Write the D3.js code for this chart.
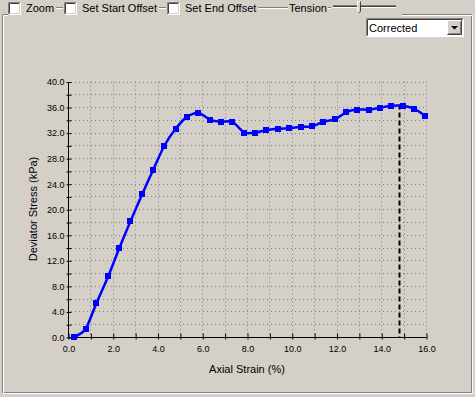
<!DOCTYPE html>
<html>
<head>
<meta charset="utf-8">
<script src="https://cdn.jsdelivr.net/npm/d3@7"></script>
<style>
  body { margin: 0; background: #d4d0c8; }
  svg { display: block; font-family: "Liberation Sans", Arial, sans-serif; }
</style>
</head>
<body>
<div id="chart"></div>
<script>
"use strict";

// data
var strain = [0.28, 0.79, 1.27, 1.80, 2.29, 2.79, 3.32, 3.81, 4.30, 4.81, 5.33, 5.83,
              6.36, 6.85, 7.34, 7.88, 8.37, 8.86, 9.40, 9.89, 10.42, 10.92, 11.41,
              11.95, 12.44, 12.93, 13.47, 13.96, 14.45, 14.99, 15.48, 15.97];
var stress = [0.0, 1.25, 5.3, 9.5, 13.9, 18.1, 22.4, 26.2, 29.9, 32.6, 34.5, 35.1,
              34.0, 33.7, 33.7, 32.0, 32.0, 32.4, 32.6, 32.7, 32.9, 33.0, 33.7,
              34.1, 35.2, 35.6, 35.6, 35.9, 36.2, 36.2, 35.7, 34.6];
var peakStrain = 14.81, peakStress = 36.4;
var xTicks = d3.range(0, 16.01, 1);
var yTicks = d3.range(0, 40.01, 2);
var modes = ["Corrected"];
var toolbarItems = ["Zoom", "Set Start Offset", "Set End Offset"];

var W = 475, H = 397;
var bg = "#d4d0c8";

var svg = d3.select("#chart").append("svg")
	.attr("width", W).attr("height", H);

svg.append("rect").attr("width", W).attr("height", H).attr("fill", bg);

// group box frame (etched), top edge only drawn at the ends
var frame = svg.append("g");
frame.append("path").attr("d", "M8,14.5H2.5V392.5H471.5V14.5H402")
	.attr("fill", "none").attr("stroke", "#808080");
frame.append("path").attr("d", "M8,15.5H3.5V393.5H472.5V15.5H402")
	.attr("fill", "none").attr("stroke", "#ffffff");

// ===== toolbar =====
var tb = svg.append("g");
function etched(x1, x2, yy){
	tb.append("line").attr("x1", x1).attr("x2", x2).attr("y1", yy + 0.5).attr("y2", yy + 0.5).attr("stroke", "#808080");
	tb.append("line").attr("x1", x1).attr("x2", x2).attr("y1", yy + 1.5).attr("y2", yy + 1.5).attr("stroke", "#ffffff");
}
function checkbox(x, y){
	var g = tb.append("g").attr("transform", "translate(" + x + "," + y + ")");
	g.append("rect").attr("x", 0).attr("y", 0).attr("width", 13).attr("height", 13).attr("fill", "#ffffff");
	g.append("path").attr("d", "M0.5,12.5V0.5H12.5").attr("fill", "none").attr("stroke", "#808080");
	g.append("path").attr("d", "M1.5,11.5V1.5H11.5").attr("fill", "none").attr("stroke", "#404040");
	g.append("path").attr("d", "M1.5,12.5H12.5V0.5").attr("fill", "none").attr("stroke", "#ffffff");
	g.append("path").attr("d", "M2,11.5H11.5V1").attr("fill", "none").attr("stroke", bg);
}
var cbX = [8, 64, 167];
var nextX = [64, 167, 289];
toolbarItems.forEach(function(label, i){
	var tx = cbX[i] + 18;
	checkbox(cbX[i], 2);
	var t = tb.append("text").attr("x", tx).attr("y", 12).attr("font-size", "11px")
		.attr("fill", "#000").text(label);
	var len = t.node().getComputedTextLength();
	etched(tx + len + 2, nextX[i] - 1, 7);
});

// "Tension" label + slider
var tens = tb.append("text").attr("x", 289).attr("y", 12).attr("font-size", "11px").text("Tension");
var tLen = tens.node().getComputedTextLength();
etched(289 + tLen + 1, 331, 7);
tb.append("line").attr("x1", 333).attr("x2", 396).attr("y1", 5.5).attr("y2", 5.5).attr("stroke", "#808080");
tb.append("line").attr("x1", 333).attr("x2", 396).attr("y1", 6.5).attr("y2", 6.5).attr("stroke", "#404040");
tb.append("line").attr("x1", 333).attr("x2", 396).attr("y1", 7.5).attr("y2", 7.5).attr("stroke", "#ffffff");
var thumb = tb.append("g").attr("transform", "translate(357,1)");
thumb.append("path").attr("d", "M0,0H4V10L2,12L0,10Z").attr("fill", bg);
thumb.append("path").attr("d", "M0.5,10V0.5H3.5").attr("fill", "none").attr("stroke", "#ffffff");
thumb.append("path").attr("d", "M3.5,0.5V10.5L2,12").attr("fill", "none").attr("stroke", "#404040");

// dropdown
var dd = svg.append("g").attr("transform", "translate(366,18)");
dd.append("rect").attr("width", 98).attr("height", 19).attr("fill", "#ffffff");
dd.append("path").attr("d", "M0.5,18.5V0.5H97.5").attr("fill", "none").attr("stroke", "#808080");
dd.append("path").attr("d", "M1.5,17.5V1.5H96.5").attr("fill", "none").attr("stroke", "#404040");
dd.append("path").attr("d", "M0.5,18.5H97.5V0.5").attr("fill", "none").attr("stroke", "#ffffff");
dd.append("text").attr("x", 3).attr("y", 14).attr("font-size", "11px").text(modes[0]);
var btn = dd.append("g").attr("transform", "translate(81,2)");
btn.append("rect").attr("width", 15).attr("height", 15).attr("fill", bg);
btn.append("path").attr("d", "M0.5,14V0.5H14").attr("fill", "none").attr("stroke", "#ffffff");
btn.append("path").attr("d", "M0.5,14.5H14.5V0.5").attr("fill", "none").attr("stroke", "#404040");
btn.append("path").attr("d", "M1.5,13.5H13.5V1.5").attr("fill", "none").attr("stroke", "#808080");
btn.append("path").attr("d", "M4,6H11L7.5,9.5Z").attr("fill", "#000");

// ===== chart =====
var x = d3.scaleLinear().domain([0, 16]).range([68, 426]);
var y = d3.scaleLinear().domain([0, 40]).range([337, 81.5]);

var grid = svg.append("g");
grid.selectAll("line.v").data(xTicks.slice(1)).enter().append("line")
	.attr("x1", function(d){ return Math.round(x(d)) + 0.5; })
	.attr("x2", function(d){ return Math.round(x(d)) + 0.5; })
	.attr("y1", y(40)).attr("y2", y(0))
	.attr("stroke", "#808080").attr("stroke-dasharray", "1,3");
grid.selectAll("line.h").data(yTicks.slice(1)).enter().append("line")
	.attr("y1", function(d){ return Math.round(y(d)) + 0.5; })
	.attr("y2", function(d){ return Math.round(y(d)) + 0.5; })
	.attr("x1", x(0) + 3).attr("x2", x(16))
	.attr("stroke", "#808080").attr("stroke-dasharray", "1,3");

// axes
var xAxis = svg.append("g").attr("transform", "translate(0.5," + (Math.round(y(0)) + 0.5) + ")")
	.call(d3.axisBottom(x).tickValues(xTicks).tickSizeInner(2).tickSizeOuter(0)
		.tickFormat(function(d){ return d % 2 === 0 ? d3.format(".1f")(d) : ""; }));
xAxis.select(".domain").attr("stroke", "#000").attr("d", "M" + x(0) + ",0H" + x(16));
xAxis.selectAll(".tick line").attr("y1", -4).attr("y2", 2).attr("stroke", "#000");
xAxis.selectAll(".tick text").attr("y", 8).attr("dy", "0.71em")
	.attr("font-size", "9px").attr("font-family", "Liberation Sans, Arial, sans-serif").attr("fill", "#000");

var yAxis = svg.append("g").attr("transform", "translate(" + (Math.round(x(0)) + 0.5) + ",0.5)")
	.call(d3.axisLeft(y).tickValues(yTicks).tickSizeInner(2).tickSizeOuter(0)
		.tickFormat(function(d){ return d % 4 === 0 ? d3.format(".1f")(d) : ""; }));
yAxis.select(".domain").attr("stroke", "#000").attr("d", "M0," + y(0) + "V" + y(40));
yAxis.selectAll(".tick line").attr("x1", -2).attr("x2", 3).attr("stroke", "#000");
yAxis.selectAll(".tick text").attr("x", -4)
	.attr("font-size", "9px").attr("font-family", "Liberation Sans, Arial, sans-serif").attr("fill", "#000");

// axis titles
svg.append("text").attr("x", 247).attr("y", 373).attr("text-anchor", "middle")
	.attr("font-size", "11px").text("Axial Strain (%)");
svg.append("text").attr("transform", "translate(37,209) rotate(-90)").attr("text-anchor", "middle")
	.attr("font-size", "11px").text("Deviator Stress (kPa)");

// peak marker
svg.append("line")
	.attr("x1", Math.round(x(peakStrain)) + 0.5).attr("x2", Math.round(x(peakStrain)) + 0.5)
	.attr("y1", y(peakStress)).attr("y2", y(0))
	.attr("stroke", "#000").attr("stroke-width", 2).attr("stroke-dasharray", "5,3");

// curve
var pts = strain.map(function(s, i){ return [s, stress[i]]; });
var line = d3.line()
	.x(function(d){ return x(d[0]); })
	.y(function(d){ return y(d[1]); })
	.curve(d3.curveCardinal.tension(0.3));
svg.append("path").datum(pts).attr("d", line)
	.attr("fill", "none").attr("stroke", "#0000ff").attr("stroke-width", 2.5);
svg.selectAll("rect.pt").data(pts).enter().append("rect")
	.attr("class", "pt")
	.attr("x", function(d){ return Math.round(x(d[0])) - 3; })
	.attr("y", function(d){ return Math.round(y(d[1])) - 3; })
	.attr("width", 6).attr("height", 6)
	.attr("fill", "#0000ff");
</script>
</body>
</html>
